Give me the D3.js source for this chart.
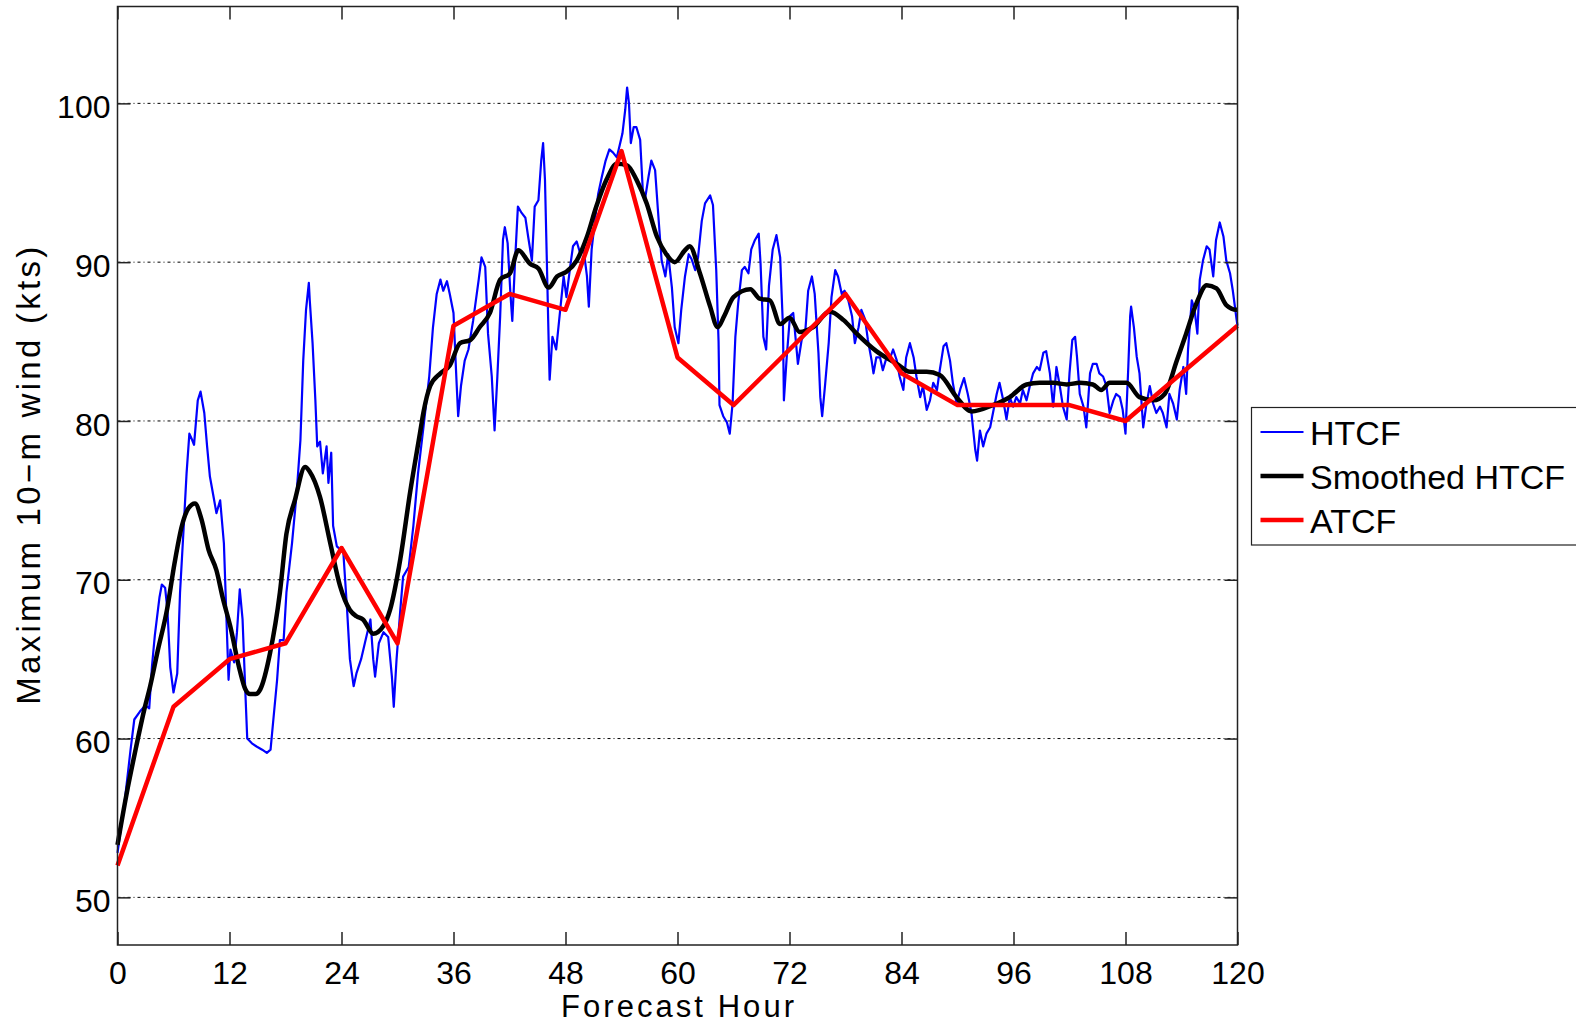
<!DOCTYPE html>
<html>
<head>
<meta charset="utf-8">
<script src="https://cdn.jsdelivr.net/npm/d3@7"></script>
<style>
  html, body { margin: 0; padding: 0; background: #fff; }
  svg { display: block; }
  text { font-family: "Liberation Sans", Arial, Helvetica, sans-serif; fill: #000; }
</style>
</head>
<body>
<svg id="chart" width="1576" height="1023"></svg>
<script>
// forecast hour ticks / wind ticks
const xTicks = [0, 12, 24, 36, 48, 60, 72, 84, 96, 108, 120];
const yTicks = [50, 60, 70, 80, 90, 100];

// ATCF every 6 h
const atcfHour = [0, 6, 12, 18, 24, 30, 36, 42, 48, 54, 60, 66, 72, 78, 84, 90, 96, 102, 108, 114, 120];
const atcfWind = [52, 62, 65, 66, 72, 66, 86, 88, 87, 97, 84, 81, 84.5, 88, 83, 81, 81, 81, 80, 83, 86];

// smoothed HTCF
const smoothHour = [0, 1.0, 1.9, 2.9, 3.5, 4.3, 5.3, 6.1, 6.9, 7.6, 8.3, 9.0, 9.75, 10.6, 11.3, 12.07, 13.1, 13.7, 14.2, 14.8,
  15.3, 16.35, 17.4, 18.1, 19.0, 20.1, 20.6, 21.7, 22.8, 23.85, 24.9, 25.6, 26.3, 27.4, 28.5, 29.2, 30.3, 31.35, 32.4, 32.8,
  33.5, 34.6, 35.6, 36.7, 37.8, 38.8, 39.9, 41.0, 42.05, 42.95, 44.2, 45.1, 46.2, 47.1, 48.1, 49.2, 50.3, 51.3, 52.4, 53.5,
  54.6, 55.6, 56.7, 57.8, 58.8, 59.7, 60.8, 61.3, 62.4, 63.5, 64.3, 65.0, 66.0, 67.8, 68.8, 69.9, 71.0, 72.0, 73.1, 74.5,
  76.3, 77.8, 79.2, 81.3, 83.5, 84.9, 86.7, 88.1, 89.9, 91.5, 93.8, 95.6, 97.4, 98.8, 100.25, 101.7, 103.1, 104.5, 105.4, 106.3,
  108.1, 109.5, 111.0, 112.2, 113.5, 114.5, 115.6, 116.7, 117.75, 118.8, 119.9, 120];
const smoothWind = [53.3, 56.6, 59.2, 61.9, 63.3, 65.5, 68.1, 71.0, 73.4, 74.5, 74.8, 73.8, 71.9, 70.6, 68.8, 67.1, 64.3, 63.1, 62.8, 62.8,
  63.1, 65.4, 69.2, 72.9, 75.0, 77.1, 76.8, 75.2, 72.3, 69.6, 68.1, 67.7, 67.5, 66.6, 67.1, 68.1, 71.3, 75.5, 79.2, 80.6,
  82.2, 83.0, 83.5, 84.9, 85.1, 85.9, 86.8, 88.9, 89.3, 90.75, 89.9, 89.6, 88.4, 89.1, 89.4, 90.1, 91.6, 93.5, 95.2, 96.2,
  96.1, 95.2, 93.7, 91.6, 90.5, 90.0, 90.75, 91.0, 89.3, 87.2, 85.9, 86.6, 87.8, 88.3, 87.7, 87.6, 86.1, 86.5, 85.6, 85.9,
  86.9, 86.35, 85.5, 84.4, 83.6, 83.1, 83.1, 82.9, 81.5, 80.6, 81.0, 81.5, 82.3, 82.4, 82.4, 82.3, 82.4, 82.3, 81.95, 82.4,
  82.4, 81.5, 81.3, 81.7, 83.8, 85.5, 87.4, 88.55, 88.35, 87.3, 87.0, 87.0];

// raw HTCF
const htcfHour = [0, 0.8, 1.4, 1.8, 2.4, 3.0, 3.4, 3.7, 4.0, 4.5, 4.75, 5.1, 5.35, 5.65, 6.0, 6.4, 6.7, 7.1, 7.4, 7.7,
  8.0, 8.2, 8.6, 8.9, 9.3, 9.6, 9.9, 10.3, 10.6, 11.0, 11.4, 11.7, 11.9, 12.1, 12.5, 12.8, 13.1, 13.4, 13.7, 13.9,
  14.4, 14.9, 15.5, 16.0, 16.4, 16.7, 17.1, 17.4, 17.8, 18.1, 18.7, 19.2, 19.6, 19.9, 20.2, 20.5, 20.6, 20.9, 21.2, 21.4,
  21.7, 22.0, 22.4, 22.6, 22.9, 23.1, 23.5, 23.9, 24.2, 24.6, 24.9, 25.3, 25.6, 26.1, 26.5, 27.1, 27.4, 27.6, 28.0, 28.5,
  29.0, 29.4, 29.6, 29.9, 30.3, 30.6, 31.2, 31.7, 32.2, 32.8, 33.4, 33.8, 34.2, 34.6, 34.9, 35.3, 35.6, 36.0, 36.3, 36.5,
  36.8, 37.2, 37.6, 38.1, 38.7, 39.0, 39.4, 39.7, 40.1, 40.4, 40.7, 41.0, 41.3, 41.5, 41.8, 42.1, 42.3, 42.6, 42.9, 43.3,
  43.7, 44.0, 44.4, 44.7, 45.1, 45.4, 45.6, 45.8, 46.0, 46.2, 46.3, 46.6, 47.0, 47.4, 47.8, 48.1, 48.5, 48.8, 49.2, 49.6,
  49.9, 50.3, 50.5, 50.8, 51.2, 51.5, 51.9, 52.3, 52.7, 53.1, 53.5, 53.8, 54.1, 54.4, 54.6, 54.8, 55.0, 55.3, 55.6, 56.0,
  56.3, 56.5, 56.9, 57.2, 57.6, 57.9, 58.3, 58.7, 59.0, 59.4, 59.7, 60.1, 60.4, 60.8, 61.2, 61.5, 61.9, 62.2, 62.6, 62.95,
  63.5, 63.8, 64.15, 64.4, 64.5, 64.9, 65.3, 65.6, 65.9, 66.2, 66.5, 66.9, 67.2, 67.6, 67.9, 68.3, 68.7, 68.9, 69.2, 69.5,
  69.8, 70.2, 70.6, 71.0, 71.3, 71.4, 71.7, 72.05, 72.4, 72.7, 72.9, 73.3, 73.7, 74.0, 74.4, 74.7, 75.1, 75.3, 75.5, 75.8,
  76.2, 76.5, 76.9, 77.2, 77.6, 77.9, 78.3, 78.7, 79.0, 79.4, 79.7, 80.1, 80.4, 80.8, 81.0, 81.3, 81.7, 82.0, 82.4, 82.8,
  83.1, 83.5, 83.8, 84.2, 84.5, 84.9, 85.3, 85.6, 86.0, 86.3, 86.7, 87.05, 87.4, 87.8, 88.1, 88.5, 88.8, 89.2, 89.5, 89.9,
  90.3, 90.7, 91.1, 91.5, 91.9, 92.1, 92.4, 92.75, 93.1, 93.5, 93.8, 94.2, 94.5, 94.9, 95.25, 95.6, 95.96, 96.3, 96.7, 97.0,
  97.4, 97.75, 98.1, 98.5, 98.8, 99.2, 99.5, 99.9, 100.25, 100.6, 100.96, 101.3, 101.7, 102.0, 102.3, 102.6, 102.8, 103.1, 103.5, 103.8,
  104.2, 104.5, 104.9, 105.2, 105.6, 105.96, 106.3, 106.7, 107.0, 107.4, 107.7, 108.0, 108.3, 108.5, 108.6, 108.9, 109.2, 109.5, 109.9, 110.2,
  110.6, 110.96, 111.3, 111.7, 112.0, 112.4, 112.7, 113.1, 113.5, 113.8, 114.2, 114.5, 114.7, 115.1, 115.4, 115.7, 115.96, 116.3, 116.7, 117.0,
  117.4, 117.7, 118.1, 118.5, 118.8, 119.2, 119.5, 119.9, 120];
const htcfWind = [52.8, 56.2, 59.3, 61.2, 61.7, 62.1, 61.9, 64.6, 66.5, 68.9, 69.7, 69.5, 68.1, 64.5, 62.9, 64.1, 69.2, 73.4, 76.7, 79.2,
  78.8, 78.5, 81.3, 81.85, 80.5, 78.4, 76.5, 75.2, 74.2, 75.0, 72.3, 67.1, 63.7, 65.6, 64.8, 66.7, 69.4, 67.5, 62.9, 60.0,
  59.7, 59.5, 59.3, 59.1, 59.3, 61.2, 63.7, 66.2, 66.2, 69.2, 72.3, 75.5, 78.8, 83.8, 87.0, 88.7, 87.6, 84.9, 81.3, 78.4,
  78.7, 76.7, 78.4, 76.1, 78.0, 73.4, 72.1, 71.9, 71.7, 68.1, 65.0, 63.3, 64.1, 65.0, 66.0, 67.5, 65.0, 63.9, 66.0, 66.7,
  66.4, 63.9, 62.0, 65.0, 68.1, 70.2, 70.8, 73.4, 76.7, 79.7, 82.8, 85.9, 88.0, 88.9, 88.2, 88.8, 88.0, 86.8, 82.8, 80.3,
  82.2, 83.8, 84.5, 86.3, 88.9, 90.3, 89.7, 85.5, 82.8, 79.4, 82.8, 86.6, 91.4, 92.2, 91.2, 88.0, 86.3, 90.1, 93.5, 93.1,
  92.8, 91.6, 90.1, 93.5, 93.9, 96.4, 97.5, 95.2, 90.1, 84.9, 82.6, 85.3, 84.5, 86.8, 89.1, 87.8, 89.7, 91.0, 91.3, 90.5,
  91.0, 89.1, 87.2, 90.8, 92.85, 94.3, 95.4, 96.4, 97.1, 96.9, 96.6, 97.35, 98.1, 99.6, 101.0, 100.0, 97.5, 98.5, 98.5, 97.7,
  94.3, 93.9, 95.4, 96.4, 95.8, 93.3, 90.1, 89.1, 90.5, 88.4, 85.9, 84.9, 87.0, 89.1, 90.5, 90.2, 89.5, 90.3, 92.6, 93.7,
  94.2, 93.6, 89.5, 85.0, 81.0, 80.3, 79.9, 79.2, 81.1, 85.3, 87.4, 89.5, 89.7, 89.3, 90.8, 91.4, 91.8, 89.9, 85.3, 84.5,
  88.5, 90.8, 91.7, 90.3, 85.9, 81.3, 84.0, 86.6, 86.8, 84.9, 83.6, 85.1, 85.7, 88.2, 89.1, 88.0, 84.3, 81.5, 80.3, 82.2,
  84.9, 87.8, 89.5, 89.1, 88.0, 88.2, 87.6, 86.6, 84.9, 85.9, 87.0, 86.4, 85.1, 83.8, 83.0, 84.0, 84.0, 83.2, 84.0, 84.0,
  84.5, 83.8, 82.8, 81.95, 84.0, 84.9, 84.0, 82.8, 81.5, 82.2, 80.7, 81.3, 82.4, 81.95, 83.2, 84.7, 84.9, 83.8, 82.4, 81.1,
  82.0, 82.7, 81.7, 80.5, 78.2, 77.5, 79.4, 78.4, 79.2, 79.6, 80.5, 81.7, 82.4, 81.3, 80.1, 81.5, 80.9, 81.5, 81.1, 81.95,
  81.3, 82.2, 83.0, 83.4, 83.2, 84.3, 84.4, 83.0, 80.9, 83.4, 82.2, 80.9, 80.1, 83.0, 85.1, 85.3, 84.05, 81.7, 80.9, 79.6,
  83.0, 83.6, 83.6, 83.0, 82.8, 82.2, 80.5, 81.3, 81.7, 81.5, 80.7, 79.2, 83.4, 86.6, 87.2, 85.9, 84.05, 83.0, 79.6, 80.9,
  82.2, 81.1, 80.5, 80.9, 80.5, 79.6, 81.7, 81.1, 80.1, 81.95, 83.4, 81.7, 84.5, 87.6, 87.0, 85.5, 88.9, 90.1, 91.0, 90.8,
  89.1, 91.4, 92.5, 91.6, 90.1, 89.3, 88.2, 86.4, 86.0];

const legendNames = ["HTCF", "Smoothed HTCF", "ATCF"];

const svg = d3.select("#chart");
const plotLeft = 117.5, plotRight = 1237.5, plotTop = 6.5, plotBottom = 945;

const x = d3.scaleLinear().domain([0, 120]).range([plotLeft, plotRight]);
const y = d3.scaleLinear().domain([47, 106.1]).range([plotBottom, plotTop]);

// grid
svg.append("g")
  .selectAll("line")
  .data(yTicks)
  .join("line")
  .attr("x1", plotLeft).attr("x2", plotRight)
  .attr("y1", d => y(d)).attr("y2", d => y(d))
  .attr("stroke", "#000")
  .attr("stroke-width", 1)
  .attr("stroke-dasharray", "3,3,1,3");

const toPts = (hs, vs) => hs.map((h, i) => [h, vs[i]]);
const line = d3.line().x(d => x(d[0])).y(d => y(d[1]));
const smoothLine = d3.line().x(d => x(d[0])).y(d => y(d[1])).curve(d3.curveMonotoneX);

const plot = svg.append("g");
plot.append("path")
  .datum(toPts(htcfHour, htcfWind))
  .attr("d", line)
  .attr("fill", "none").attr("stroke", "#0000ff").attr("stroke-width", 2.2)
  .attr("stroke-linejoin", "round");
plot.append("path")
  .datum(toPts(smoothHour, smoothWind))
  .attr("d", smoothLine)
  .attr("fill", "none").attr("stroke", "#000").attr("stroke-width", 4.5)
  .attr("stroke-linejoin", "round");
plot.append("path")
  .datum(toPts(atcfHour, atcfWind))
  .attr("d", line)
  .attr("fill", "none").attr("stroke", "#ff0000").attr("stroke-width", 4.5)
  .attr("stroke-linejoin", "round");

// axes (ticks point inward, box drawn separately)
const tickLen = 13;
const styleAxis = g => {
  g.select(".domain").remove();
  g.selectAll(".tick line").attr("stroke", "#222").attr("stroke-width", 1.5);
  g.selectAll(".tick text").style("font-size", "32px").attr("fill", "#000");
};

svg.append("g")
  .attr("transform", `translate(0,${plotBottom})`)
  .call(d3.axisBottom(x).tickValues(xTicks).tickSize(-tickLen).tickPadding(16))
  .call(styleAxis);
svg.append("g")
  .attr("transform", `translate(0,${plotTop})`)
  .call(d3.axisTop(x).tickValues(xTicks).tickSize(-tickLen).tickFormat(""))
  .call(styleAxis);
svg.append("g")
  .attr("transform", `translate(${plotLeft},0)`)
  .call(d3.axisLeft(y).tickValues(yTicks).tickSize(-tickLen).tickPadding(7))
  .call(styleAxis)
  .call(g => g.selectAll(".tick text").attr("dy", "0.44em"));
svg.append("g")
  .attr("transform", `translate(${plotRight},0)`)
  .call(d3.axisRight(y).tickValues(yTicks).tickSize(-tickLen).tickFormat(""))
  .call(styleAxis);

svg.append("rect")
  .attr("x", plotLeft).attr("y", plotTop)
  .attr("width", plotRight - plotLeft).attr("height", plotBottom - plotTop)
  .attr("fill", "none").attr("stroke", "#222").attr("stroke-width", 1.5);

// axis titles
svg.append("text")
  .attr("x", (plotLeft + plotRight) / 2).attr("y", 1017)
  .attr("text-anchor", "middle")
  .attr("textLength", 233).attr("lengthAdjust", "spacing")
  .style("font-size", "31px")
  .text("Forecast Hour");
svg.append("text")
  .attr("transform", `translate(40,${(plotTop + plotBottom) / 2}) rotate(-90)`)
  .attr("text-anchor", "middle")
  .attr("textLength", 458).attr("lengthAdjust", "spacing")
  .style("font-size", "33px")
  .text("Maximum 10\u2212m wind (kts)");

// legend
const legendColors = ["#0000ff", "#000", "#ff0000"];
const legendWidths = [2, 4.5, 4.5];
const lg = svg.append("g");
lg.append("rect")
  .attr("x", 1251.5).attr("y", 407.5)
  .attr("width", 340).attr("height", 137.5)
  .attr("fill", "#fff").attr("stroke", "#222").attr("stroke-width", 1.2);
const rows = lg.selectAll("g.row")
  .data(legendNames)
  .join("g")
  .attr("class", "row")
  .attr("transform", (d, i) => `translate(0,${432 + i * 44})`);
rows.append("line")
  .attr("x1", 1260.5).attr("x2", 1303.5)
  .attr("stroke", (d, i) => legendColors[i])
  .attr("stroke-width", (d, i) => legendWidths[i]);
rows.append("text")
  .attr("x", 1310).attr("y", 12.5)
  .style("font-size", "34px")
  .text(d => d);
</script>
</body>
</html>
